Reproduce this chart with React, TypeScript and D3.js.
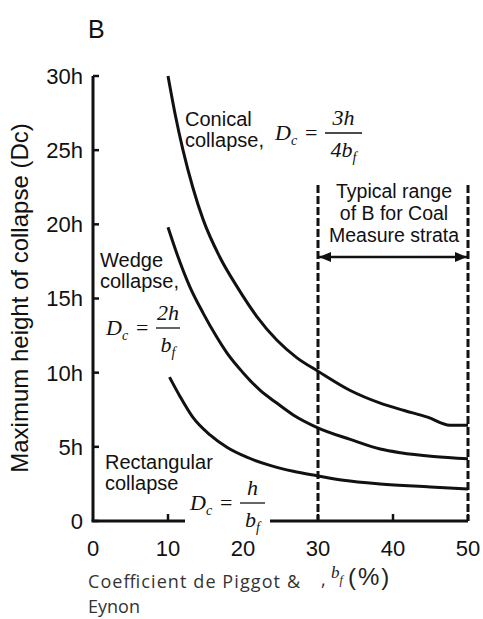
import React from 'react';
import * as d3 from 'd3';

// values (b_f in %, height in multiples of h)
const xTicks = [0, 10, 20, 30, 40, 50];
const yTicks = [0, 5, 10, 15, 20, 25, 30];
const yTickLabels = ['0', '5h', '10h', '15h', '20h', '25h', '30h'];

const conical: [number, number][] = [
  [10, 30], [11, 27.3], [12, 25], [13.3, 22.5], [14.7, 20.3], [16.9, 17.8],
  [19.2, 15.8], [21.9, 13.75], [24.5, 12.2], [27.2, 11.0], [30, 10.1],
  [34.3, 8.8], [38.3, 7.95], [41.5, 7.45], [44.6, 7.0], [47.6, 6.45], [50, 6.45],
];
const wedge: [number, number][] = [
  [10, 19.8], [11.2, 18.0], [12.9, 15.8], [14.7, 14.0], [16.5, 12.4], [17.9, 11.3],
  [20, 10.0], [22.3, 8.8], [24.5, 7.95], [26.7, 7.15], [29.9, 6.3], [34.3, 5.5],
  [38.3, 4.85], [41, 4.6], [45.4, 4.35], [50, 4.2],
];
const rectangular: [number, number][] = [
  [10.2, 9.7], [11.6, 8.4], [13.3, 7.0], [15.6, 5.8], [17.9, 4.95], [20.5, 4.3],
  [23.6, 3.75], [26.7, 3.35], [29.9, 3.05], [33.4, 2.75], [38.3, 2.5], [45, 2.3], [50, 2.15],
];
const typicalRange = [30, 50];

const sans = 'Liberation Sans, Arial, Helvetica, sans-serif';
const serif = 'Liberation Serif, Times New Roman, serif';

const x = d3.scaleLinear().domain([0, 50]).range([93, 468]);
const y = d3.scaleLinear().domain([0, 30]).range([521, 76]);

const line = d3.line<[number, number]>()
  .x(d => x(d[0]))
  .y(d => y(d[1]))
  .curve(d3.curveMonotoneX);

// D_c = num / den  (den ends with a subscript f)
function Formula({ left, base, num, den, barW }: { left: number; base: number; num: string; den: string; barW: number }) {
  const barX = left + 50;
  const cx = barX + barW / 2;
  return (
    <g fontFamily={serif} fontStyle="italic" fontSize={22} fill="#111">
      <text x={left} y={base}>D<tspan fontSize={14} dy={5}>c</tspan></text>
      <text x={left + 30} y={base} fontStyle="normal">=</text>
      <line x1={barX} x2={barX + barW} y1={base - 7} y2={base - 7} stroke="#111" strokeWidth={1.3} />
      <text x={cx} y={base - 15} textAnchor="middle">{num}</text>
      <text x={cx} y={base + 17} textAnchor="middle">{den}<tspan fontSize={14} dy={5}>f</tspan></text>
    </g>
  );
}

export default function App() {
  const y0 = y(0);
  return (
    <svg width={483} height={619} style={{ position: 'absolute', left: 0, top: 0, background: '#fff' }}>
      <defs>
        <marker id="arr" viewBox="0 0 12 10" refX={12} refY={5} markerWidth={12} markerHeight={10}
          markerUnits="userSpaceOnUse" orient="auto-start-reverse">
          <path d="M0,0L12,5L0,10Z" fill="#111" />
        </marker>
      </defs>

      <text x={88} y={38} fontFamily={sans} fontSize={25} fill="#111">B</text>

      {/* y axis */}
      <line x1={x(0)} x2={x(0)} y1={y(30)} y2={y0} stroke="#111" strokeWidth={3} />
      {yTicks.map((t, i) => (
        <g key={t}>
          <line x1={x(0)} x2={x(0) + 6} y1={y(t)} y2={y(t)} stroke="#111" strokeWidth={2.5} />
          <text x={x(0) - 10} y={y(t)} dy="0.36em" textAnchor="end" fontFamily={sans} fontSize={22} fill="#111">
            {yTickLabels[i]}
          </text>
        </g>
      ))}
      <text transform="translate(28,298) rotate(-90)" textAnchor="middle" fontFamily={sans} fontSize={24} fill="#111">
        Maximum height of collapse (Dc)
      </text>

      {/* x axis */}
      <line x1={x(0) - 1.5} x2={x(50)} y1={y0} y2={y0} stroke="#111" strokeWidth={3} />
      {xTicks.map(t => (
        <g key={t}>
          {t > 0 && <line x1={x(t)} x2={x(t)} y1={y0} y2={y0 - 7} stroke="#111" strokeWidth={2.5} />}
          <text x={x(t)} y={y0 + 35} textAnchor="middle" fontFamily={sans} fontSize={22} fill="#111">{t}</text>
        </g>
      ))}

      {/* typical range */}
      {typicalRange.map(v => (
        <line key={v} x1={x(v)} x2={x(v)} y1={185} y2={y0} stroke="#111" strokeWidth={3} strokeDasharray="8,3" />
      ))}
      <line x1={x(typicalRange[0]) + 1} x2={x(typicalRange[1]) - 1} y1={257} y2={257} stroke="#111" strokeWidth={2.5}
        markerStart="url(#arr)" markerEnd="url(#arr)" />
      <g fontFamily={sans} fontSize={19.5} fill="#111" textAnchor="middle">
        <text x={394} y={198}>Typical range</text>
        <text x={394} y={220}>of B for Coal</text>
        <text x={394} y={242}>Measure strata</text>
      </g>

      {/* curves */}
      {[conical, wedge, rectangular].map((s, i) => (
        <path key={i} d={line(s) ?? ''} fill="none" stroke="#111" strokeWidth={3} />
      ))}

      {/* labels */}
      <g fontFamily={sans} fontSize={20} fill="#111">
        <text x={185} y={126}>Conical</text>
        <text x={185} y={147}>collapse,</text>
        <text x={100} y={267}>Wedge</text>
        <text x={100} y={288}>collapse,</text>
        <text x={105} y={469}>Rectangular</text>
        <text x={105} y={490}>collapse</text>
      </g>
      <Formula left={275} base={140} num="3h" den="4b" barW={37} />
      <Formula left={106} base={335} num="2h" den="b" barW={24} />
      <rect x={185} y={492} width={85} height={49} fill="#fff" />
      <Formula left={190} base={510} num="h" den="b" barW={25} />

      {/* x axis title */}
      <g fontFamily="Open Sans, Noto Sans, sans-serif" fontSize={18} fill="#333">
        <text x={88} y={588} textLength={212} lengthAdjust="spacing">Coefficient de Piggot &amp;</text>
        <text x={88} y={613}>Eynon</text>
        <text x={321} y={586}>,</text>
      </g>
      <text x={331} y={578} fontFamily={serif} fontStyle="italic" fontSize={17} fill="#222">
        b<tspan fontSize={12} dy={6}>f</tspan>
      </text>
      <text x={348} y={585} fontFamily={sans} fontSize={24} letterSpacing={2} fill="#222">(%)</text>
    </svg>
  );
}
